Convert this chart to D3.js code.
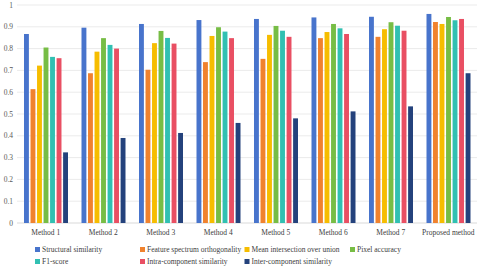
<!DOCTYPE html>
<html>
<head>
<meta charset="utf-8">
<script src="https://cdn.jsdelivr.net/npm/d3@7"></script>
<style>
  body { margin: 0; background: #fff; }
  text { font-family: "Liberation Serif", "Times New Roman", serif; }
</style>
</head>
<body>
<svg id="drawing_region"></svg>
<script>
const methods = ["Method 1", "Method 2", "Method 3", "Method 4", "Method 5", "Method 6", "Method 7", "Proposed method"];
const seriesNames = ["Structural similarity", "Feature spectrum orthogonality", "Mean intersection over union",
  "Pixel accuracy", "F1-score", "Intra-component similarity", "Inter-component similarity"];
const seriesColors = ["#4874cc", "#f0822e", "#f6bd00", "#77bd45", "#31c0b2", "#e94f63", "#24427c"];

const structural = [0.867, 0.896, 0.913, 0.931, 0.936, 0.943, 0.946, 0.959];
const orthogonality = [0.614, 0.687, 0.703, 0.738, 0.753, 0.848, 0.854, 0.922];
const miou = [0.722, 0.786, 0.825, 0.858, 0.863, 0.876, 0.889, 0.913];
const pixelAcc = [0.805, 0.848, 0.881, 0.898, 0.904, 0.913, 0.921, 0.945];
const f1 = [0.762, 0.817, 0.849, 0.878, 0.882, 0.893, 0.905, 0.930];
const intra = [0.756, 0.800, 0.823, 0.848, 0.854, 0.867, 0.882, 0.936];
const inter = [0.324, 0.390, 0.413, 0.459, 0.480, 0.512, 0.535, 0.687];
const yTicks = [0, 0.1, 0.2, 0.3, 0.4, 0.5, 0.6, 0.7, 0.8, 0.9, 1];

const allSeries = [structural, orthogonality, miou, pixelAcc, f1, intra, inter];
const data = methods.map((m, i) => ({ method: m, values: allSeries.map(s => s[i]) }));

const width = 480, height = 268;
const svg = d3.select('#drawing_region')
  .attr('width', width)
  .attr('height', height);

const x0 = d3.scaleBand().domain(methods).range([17, 477]);
const x1 = d3.scaleBand().domain(d3.range(seriesNames.length)).range([7, 51]).paddingInner(0.25);
const y = d3.scaleLinear().domain([0, 1]).range([223, 5]);

// grid
svg.append('g')
  .selectAll('line')
  .data(yTicks)
  .enter()
  .append('line')
  .attr('x1', 17).attr('x2', 477)
  .attr('y1', d => y(d)).attr('y2', d => y(d))
  .attr('stroke', d => d === 0 ? '#d9d9d9' : '#ebebeb')
  .attr('stroke-width', 1);

// y labels
svg.append('g')
  .selectAll('text')
  .data(yTicks)
  .enter()
  .append('text')
  .attr('x', 13)
  .attr('y', d => y(d) + 2.5)
  .attr('text-anchor', 'end')
  .attr('font-size', '7.5px')
  .attr('fill', '#595959')
  .text(d => d3.format('')(d));

// bars
const groups = svg.append('g')
  .selectAll('g')
  .data(data)
  .enter()
  .append('g')
  .attr('transform', d => `translate(${x0(d.method)},0)`);

groups.selectAll('rect')
  .data(d => d.values)
  .enter()
  .append('rect')
  .attr('x', (d, i) => x1(i))
  .attr('width', x1.bandwidth())
  .attr('y', d => y(d))
  .attr('height', d => y(0) - y(d))
  .attr('fill', (d, i) => seriesColors[i]);

// x labels
svg.append('g')
  .selectAll('text')
  .data(methods)
  .enter()
  .append('text')
  .attr('x', d => x0(d) + x0.bandwidth() / 2)
  .attr('y', 235)
  .attr('text-anchor', 'middle')
  .attr('font-size', '7.5px')
  .attr('fill', '#404040')
  .text(d => d);

// legend
const legendX = [35, 140, 244.5, 350];
const legendY = [249.5, 261.5];
const legend = svg.append('g')
  .selectAll('g')
  .data(seriesNames)
  .enter()
  .append('g')
  .attr('transform', (d, i) => `translate(${legendX[i % 4]},${legendY[Math.floor(i / 4)]})`);

legend.append('rect')
  .attr('x', 0).attr('y', -2.5)
  .attr('width', 5).attr('height', 5)
  .attr('fill', (d, i) => seriesColors[i]);

legend.append('text')
  .attr('x', 7)
  .attr('y', 2.5)
  .attr('font-size', '7.5px')
  .attr('fill', '#404040')
  .text(d => d);
</script>
</body>
</html>
